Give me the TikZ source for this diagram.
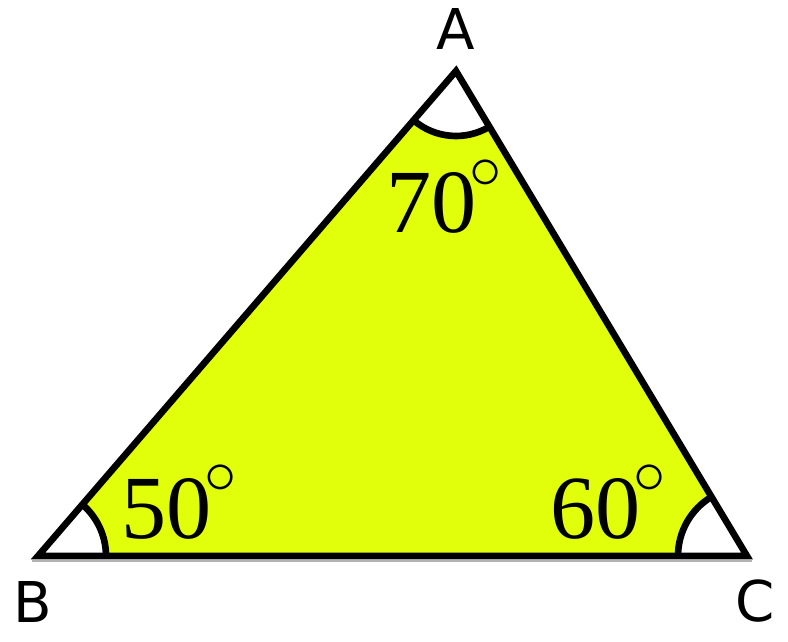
\documentclass[tikz,border=0pt]{standalone}
\usepackage{fontspec}
\setmainfont{Liberation Serif}
\newfontfamily\labelfont{DejaVu Sans}
\DeclareFontShape{OMS}{cmsy}{m}{n}{<-> cmsy10}{}
\usetikzlibrary{angles}
\definecolor{tri}{RGB}{225,255,10}
\newcommand{\degsign}{\kern-6pt\raisebox{38pt}{\fontsize{55}{55}\selectfont$\circ$}}
\begin{document}
\begin{tikzpicture}[x=0.03cm,y=0.03cm,
  vlabel/.style={font=\labelfont\fontsize{48}{48}\selectfont, inner sep=0},
  alabel/.style={font=\fontsize{77}{77}\selectfont, inner sep=0, anchor=base west},
  edge/.style={line width=0.2cm, line join=miter},
  wedge/.style={draw=black, fill=white, line width=0.2cm}]
\useasboundingbox (0,0) rectangle (788,641);
\coordinate (A) at (456,570);
\coordinate (B) at (38,85);
\coordinate (C) at (747,85);
\coordinate (s1) at (32,80);
\coordinate (s2) at (752,80);
\fill[tri] (A) -- (B) -- (C) -- cycle;
\draw[black!30, line width=2pt] (s1) -- (s2);
\pic[wedge, angle radius=2.04cm] {angle=C--B--A};
\pic[wedge, angle radius=2.07cm] {angle=A--C--B};
\pic[wedge, angle radius=1.95cm] {angle=B--A--C};
\draw[edge] (A) -- (B) -- (C) -- cycle;
\node[vlabel] (lA) at (456,612) {A};
\node[vlabel] (lB) at (33,39) {B};
\node[vlabel] (lC) at (755,40) {C};
\node[alabel] (a70) at (386,408) {70\degsign};
\node[alabel] (a50) at (121,103) {50\degsign};
\node[alabel] (a60) at (550,103) {60\degsign};
\end{tikzpicture}
\end{document}
